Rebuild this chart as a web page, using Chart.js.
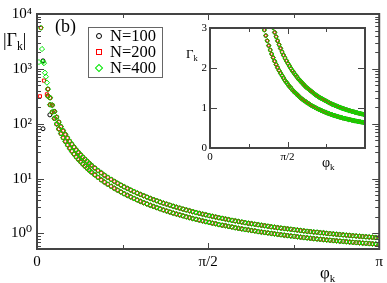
<!DOCTYPE html>
<html>
<head>
<meta charset="utf-8">
<script src="https://cdn.jsdelivr.net/npm/chart.js@4.4.1/dist/chart.umd.min.js"></script>
<style>
  html, body { margin: 0; padding: 0; background: #fff; }
  #wrap { position: relative; width: 387px; height: 283px; font-family: "Liberation Serif", "DejaVu Serif", serif; color: #000; }
  canvas { position: absolute; }
  #main { left: 0; top: 0; }
  #inset { left: 180px; top: 18px; }
  .t { position: absolute; white-space: nowrap; line-height: 1; }
  .t sub { font-size: 65%; vertical-align: -0.35em; line-height: 0; }
  #legend { position: absolute; left: 88px; top: 27px; width: 73px; height: 49px; border: 1px solid #666; background: #fff; }
  .row { position: absolute; left: 0; height: 16px; font-size: 16.5px; line-height: 16px; }
  .row span.lab { position: absolute; left: 21px; top: 0; }
  .mk { position: absolute; left: 7px; top: 5px; width: 4px; height: 4px; box-sizing: content-box; }
  .mk.c { border: 1px solid #000; border-radius: 50%; }
  .mk.s { border: 1px solid #f00; }
  .mk.d { border: 1px solid #00e600; transform: rotate(45deg); }
</style>
</head>
<body>
<div id="wrap">
  <canvas id="main" width="387" height="283"></canvas>
  <canvas id="inset" width="200" height="150"></canvas>
  <div class="t" style="left:3px;top:31px;font-size:18px;">|Γ<sub>k</sub>|</div>
  <div class="t" style="left:55px;top:17px;font-size:18px;">(b)</div>
  <div class="t" style="left:320px;top:264px;font-size:17px;">φ<sub>k</sub></div>
  <div class="t" style="left:186px;top:47px;font-size:13px;">Γ<sub>k</sub></div>
  <div class="t" style="left:322px;top:156px;font-size:14px;">φ<sub>k</sub></div>
  <div id="legend">
    <div class="row" style="top:0px"><div class="mk c"></div><span class="lab">N=100</span></div>
    <div class="row" style="top:16px"><div class="mk s"></div><span class="lab">N=200</span></div>
    <div class="row" style="top:32px"><div class="mk d"></div><span class="lab">N=400</span></div>
  </div>
</div>
<script>
// ---- data ----
// the two branches of |Γ_k| vs φ_k (the three N lie on top of each other)
const phiBand = [0.10, 0.12, 0.14, 0.16, 0.18, 0.20, 0.22, 0.24, 0.26, 0.28, 0.30,
  0.32, 0.34, 0.36, 0.38, 0.40, 0.42, 0.44, 0.46, 0.48, 0.50,
  0.53, 0.56, 0.59, 0.62, 0.65, 0.68, 0.71, 0.74, 0.77, 0.80,
  0.83, 0.86, 0.89, 0.92, 0.95, 0.98, 1.01, 1.04, 1.07, 1.10,
  1.13, 1.16, 1.19, 1.22, 1.25, 1.28, 1.31, 1.34, 1.37, 1.40,
  1.43, 1.46, 1.49, 1.52, 1.55, 1.58, 1.61, 1.64, 1.67, 1.70,
  1.73, 1.76, 1.79, 1.82, 1.85, 1.88, 1.91, 1.94, 1.97, 2.00,
  2.03, 2.06, 2.09, 2.12, 2.15, 2.18, 2.21, 2.24, 2.27, 2.30,
  2.33, 2.36, 2.39, 2.42, 2.45, 2.48, 2.51, 2.54, 2.57, 2.60,
  2.63, 2.66, 2.69, 2.72, 2.75, 2.78, 2.81, 2.84, 2.87, 2.90,
  2.93, 2.96, 2.99, 3.02, 3.05, 3.08, 3.11, 3.14];
const gammaUpper = [427, 297, 218, 167, 132, 107, 88.6, 74.5, 63.6, 54.9, 47.8,
  42.1, 37.3, 33.3, 30.0, 27.1, 24.6, 22.5, 20.6, 18.9, 17.5,
  15.6, 14.0, 12.7, 11.5, 10.5, 9.64, 8.87, 8.20, 7.60, 7.07,
  6.60, 6.17, 5.79, 5.44, 5.13, 4.85, 4.59, 4.35, 4.13, 3.93,
  3.74, 3.57, 3.42, 3.27, 3.13, 3.01, 2.89, 2.78, 2.68, 2.58,
  2.49, 2.40, 2.32, 2.25, 2.18, 2.11, 2.05, 1.99, 1.93, 1.88,
  1.83, 1.78, 1.73, 1.69, 1.65, 1.61, 1.57, 1.53, 1.50, 1.47,
  1.44, 1.41, 1.38, 1.35, 1.32, 1.30, 1.27, 1.25, 1.23, 1.21,
  1.19, 1.17, 1.15, 1.13, 1.11, 1.09, 1.08, 1.06, 1.05, 1.03,
  1.02, 1.00, 0.990, 0.977, 0.964, 0.952, 0.941, 0.929, 0.918, 0.908,
  0.897, 0.887, 0.878, 0.868, 0.859, 0.850, 0.842, 0.833];
const gammaLower = [319, 222, 163, 125, 98.8, 80.1, 66.2, 55.7, 47.5, 41.0, 35.8,
  31.5, 27.9, 24.9, 22.4, 20.3, 18.4, 16.8, 15.4, 14.2, 13.1,
  11.7, 10.5, 9.47, 8.61, 7.86, 7.21, 6.64, 6.14, 5.69, 5.29,
  4.94, 4.62, 4.34, 4.08, 3.84, 3.63, 3.44, 3.26, 3.10, 2.95,
  2.81, 2.68, 2.56, 2.45, 2.35, 2.26, 2.17, 2.09, 2.01, 1.94,
  1.87, 1.81, 1.75, 1.69, 1.64, 1.59, 1.54, 1.50, 1.45, 1.41,
  1.38, 1.34, 1.31, 1.27, 1.24, 1.21, 1.18, 1.16, 1.13, 1.11,
  1.08, 1.06, 1.04, 1.02, 0.999, 0.981, 0.963, 0.946, 0.929, 0.913,
  0.898, 0.883, 0.869, 0.855, 0.841, 0.829, 0.816, 0.804, 0.793, 0.782,
  0.771, 0.761, 0.751, 0.741, 0.732, 0.723, 0.714, 0.706, 0.697, 0.689,
  0.682, 0.674, 0.667, 0.660, 0.653, 0.646, 0.640, 0.633];

// scattered points close to φ = 0, per system size
const phi400 = [0.018, 0.036, 0.046, 0.055, 0.064, 0.073, 0.082, 0.091];
const gamma400 = [1330, 5600, 2300, 1350, 1270, 850, 720, 560];
const phi200 = [0.027, 0.036, 0.064, 0.091];
const gamma200 = [316, 5600, 611, 343];
const phi100 = [0.055, 0.055, 0.118];
const gamma100 = [1400, 81, 145];

// ticks
const xTicks = [0, Math.PI / 4, Math.PI / 2, 3 * Math.PI / 4, Math.PI];
const xTickLabels = ['0', '', 'π/2', '', 'π'];
const yMajor = [1, 10, 100, 1000, 10000];
const yMajorLabels = ['10⁰', '10¹', '10²', '10³', '10⁴'];
const yMinor = [0.6, 0.7, 0.8, 0.9, 2, 3, 4, 5, 6, 7, 8, 9, 20, 30, 40, 50, 60, 70, 80, 90,
  200, 300, 400, 500, 600, 700, 800, 900, 2000, 3000, 4000, 5000, 6000, 7000, 8000, 9000];
const insetXLabels = ['0', '', 'π/2', '', ''];
const insetYTicks = [0, 1, 2, 3];
const insetYLabels = ['0', '1', '2', '3'];

const FONT = '"Liberation Serif", "DejaVu Serif", serif';

function band(extraPhi, extraGamma) {
  const pts = [];
  phiBand.forEach((p, i) => pts.push({ x: p, y: gammaUpper[i] }));
  phiBand.forEach((p, i) => pts.push({ x: p, y: gammaLower[i] }));
  (extraPhi || []).forEach((p, i) => pts.push({ x: p, y: extraGamma[i] }));
  return pts;
}

function seriesSets(withScatter, r) {
  return [
    { label: 'N=400', data: band(withScatter && phi400, gamma400), pointStyle: 'rectRot',
      pointRadius: r + 0.4, borderColor: '#00e600', backgroundColor: 'transparent', pointBorderWidth: 1 },
    { label: 'N=200', data: band(withScatter && phi200, gamma200), pointStyle: 'rect',
      pointRadius: r, borderColor: '#ff0000', backgroundColor: 'transparent', pointBorderWidth: 1 },
    { label: 'N=100', data: band(withScatter && phi100, gamma100), pointStyle: 'circle',
      pointRadius: r - 0.2, borderColor: '#000', backgroundColor: 'transparent', pointBorderWidth: 1 },
  ];
}

// inward ticks on all four sides + frame
const frameTicks = {
  id: 'frameTicks',
  afterDatasetsDraw(chart, args, o) {
    const { ctx, chartArea: a, scales: { x, y } } = chart;
    ctx.save();
    ctx.strokeStyle = o.color;
    ctx.lineWidth = 1;
    ctx.beginPath();
    o.xt.forEach(([v, len]) => {
      const px = Math.round(x.getPixelForValue(v)) + 0.5;
      ctx.moveTo(px, a.bottom); ctx.lineTo(px, a.bottom - len);
      ctx.moveTo(px, a.top); ctx.lineTo(px, a.top + len);
    });
    o.yt.forEach(([v, len]) => {
      const py = Math.round(y.getPixelForValue(v)) + 0.5;
      ctx.moveTo(a.left, py); ctx.lineTo(a.left + len, py);
      ctx.moveTo(a.right, py); ctx.lineTo(a.right - len, py);
    });
    ctx.stroke();
    ctx.lineWidth = o.width;
    ctx.strokeRect(a.left, a.top, a.right - a.left, a.bottom - a.top);
    ctx.restore();
  },
};

const whiteArea = {
  id: 'whiteArea',
  beforeDraw(chart) {
    const { ctx, chartArea: a } = chart;
    ctx.save();
    ctx.fillStyle = '#fff';
    ctx.fillRect(a.left, a.top, a.right - a.left, a.bottom - a.top);
    ctx.restore();
  },
};

new Chart(document.getElementById('main'), {
  type: 'scatter',
  data: { datasets: seriesSets(true, 2.2) },
  plugins: [frameTicks],
  options: {
    responsive: false, animation: false, events: [],
    layout: { padding: { left: 0, right: 5, top: 10, bottom: 0 } },
    plugins: {
      legend: { display: false }, tooltip: { enabled: false },
      frameTicks: {
        color: '#444', width: 2,
        xt: xTicks.map((v, i) => [v, xTickLabels[i] ? 6 : 4]),
        yt: yMajor.map(v => [v, 7]).concat(yMinor.map(v => [v, 4])),
      },
    },
    scales: {
      x: {
        type: 'linear', min: 0, max: Math.PI,
        grid: { display: false, drawTicks: false }, border: { display: false },
        afterBuildTicks: s => { s.ticks = xTicks.map(v => ({ value: v })); },
        afterFit: s => { s.height = 34; },
        ticks: { autoSkip: false, maxRotation: 0, padding: 4, color: '#000',
          font: { family: FONT, size: 15 }, callback: (v, i) => xTickLabels[i] },
      },
      y: {
        type: 'logarithmic', min: 0.52, max: 10000,
        grid: { display: false, drawTicks: false }, border: { display: false },
        afterBuildTicks: s => { s.ticks = yMajor.map(v => ({ value: v })); },
        afterFit: s => { s.width = 37; },
        ticks: { autoSkip: false, padding: 5, color: '#000',
          font: { family: FONT, size: 15 }, callback: (v, i) => yMajorLabels[i] },
      },
    },
  },
});

new Chart(document.getElementById('inset'), {
  type: 'scatter',
  data: { datasets: seriesSets(false, 1.9) },
  plugins: [whiteArea, frameTicks],
  options: {
    responsive: false, animation: false, events: [],
    layout: { padding: { left: 0, right: 15, top: 10, bottom: 0 } },
    plugins: {
      legend: { display: false }, tooltip: { enabled: false },
      frameTicks: {
        color: '#444', width: 2,
        xt: xTicks.map((v, i) => [v, insetXLabels[i] ? 6 : 4]),
        yt: insetYTicks.map(v => [v, 7]),
      },
    },
    scales: {
      x: {
        type: 'linear', min: 0, max: Math.PI,
        grid: { display: false, drawTicks: false }, border: { display: false },
        afterBuildTicks: s => { s.ticks = xTicks.map(v => ({ value: v })); },
        afterFit: s => { s.height = 20; },
        ticks: { autoSkip: false, maxRotation: 0, padding: 3, color: '#000',
          font: { family: FONT, size: 11 }, callback: (v, i) => insetXLabels[i] },
      },
      y: {
        type: 'linear', min: 0, max: 3,
        grid: { display: false, drawTicks: false }, border: { display: false },
        afterBuildTicks: s => { s.ticks = insetYTicks.map(v => ({ value: v })); },
        afterFit: s => { s.width = 30; },
        ticks: { autoSkip: false, padding: 3, color: '#000',
          font: { family: FONT, size: 11 }, callback: (v, i) => insetYLabels[i] },
      },
    },
  },
});
</script>
</body>
</html>
